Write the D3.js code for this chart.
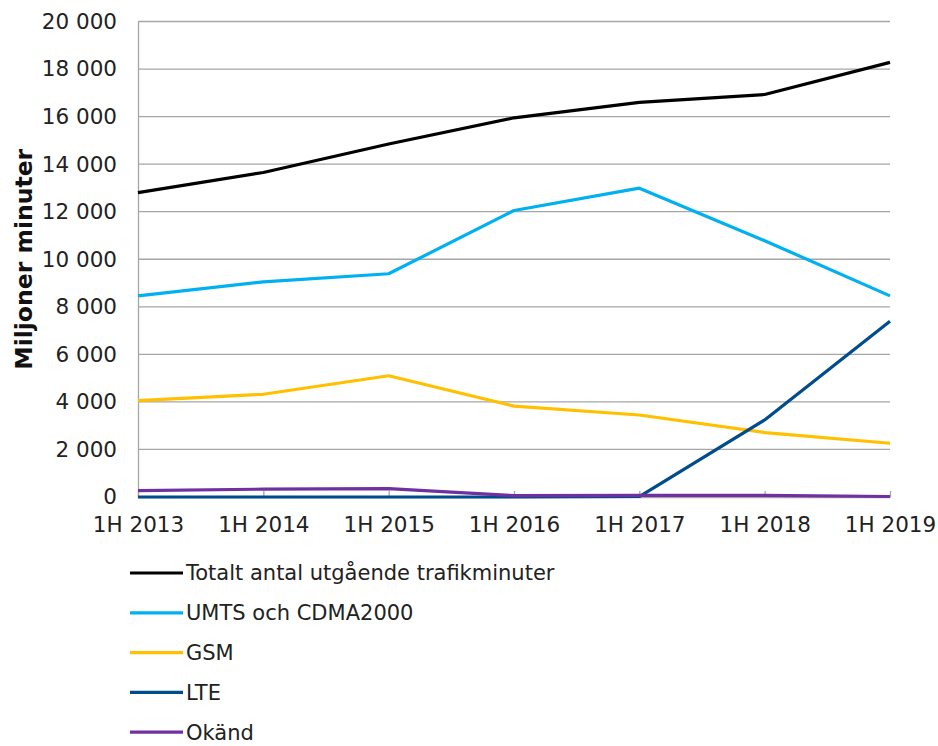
<!DOCTYPE html>
<html>
<head>
<meta charset="utf-8">
<script src="https://cdn.jsdelivr.net/npm/d3@7"></script>
<style>
  body { margin: 0; background: #fff; }
  svg { display: block; font-family: Verdana, "DejaVu Sans", sans-serif; }
</style>
</head>
<body>
<svg id="chart" width="938" height="746"></svg>
<script>
const periods = ['1H 2013', '1H 2014', '1H 2015', '1H 2016', '1H 2017', '1H 2018', '1H 2019'];
const totalt = [12800, 13650, 14850, 15950, 16600, 16930, 18280];
const umts = [8460, 9050, 9390, 12050, 12990, 10780, 8460];
const gsm = [4050, 4320, 5100, 3820, 3450, 2710, 2260];
const lte = [0, 0, 0, 0, 20, 3240, 7390];
const okand = [270, 330, 350, 60, 70, 70, 20];
const yTicks = [0, 2000, 4000, 6000, 8000, 10000, 12000, 14000, 16000, 18000, 20000];

const seriesNames = ['Totalt antal utgående trafikminuter', 'UMTS och CDMA2000', 'GSM', 'LTE', 'Okänd'];
const seriesValues = [totalt, umts, gsm, lte, okand];
const colors = ['#000000', '#00b0f0', '#ffc000', '#004c8c', '#7030a0'];

const margin = { top: 21.5, left: 138, right: 48, bottom: 249 };
const width = 938, height = 746;

const svg = d3.select('#chart');

const x = d3.scalePoint().domain(periods).range([margin.left, width - margin.right]);
const y = d3.scaleLinear().domain([0, 20000]).range([height - margin.bottom, margin.top]);

const fmt = v => d3.format(',')(v).replace(/,/g, ' ');

// gridlines
svg.append('g')
  .selectAll('line')
  .data(yTicks.filter(t => t > 0))
  .join('line')
  .attr('x1', margin.left).attr('x2', width - margin.right)
  .attr('y1', d => y(d)).attr('y2', d => y(d))
  .attr('stroke', '#a6a6a6').attr('stroke-width', 1.3);

// y axis
const yAxis = svg.append('g')
  .attr('transform', `translate(${margin.left},0)`)
  .call(d3.axisLeft(y).tickValues(yTicks).tickFormat(fmt).tickSize(0).tickPadding(21));
yAxis.select('.domain').attr('stroke', '#a6a6a6').attr('stroke-width', 1.3);
yAxis.selectAll('text').attr('font-size', 21.5).attr('fill', '#222')
  .attr('font-family', 'Verdana, "DejaVu Sans", sans-serif');

// x axis
const xAxis = svg.append('g')
  .attr('transform', `translate(0,${y(0)})`)
  .call(d3.axisBottom(x).tickSizeInner(-6).tickSizeOuter(0).tickPadding(20));
xAxis.select('.domain').attr('stroke', '#a6a6a6').attr('stroke-width', 1.3);
xAxis.selectAll('.tick line').attr('stroke', '#a6a6a6').attr('stroke-width', 1.3);
xAxis.selectAll('text').attr('font-size', 21.5).attr('fill', '#222')
  .attr('font-family', 'Verdana, "DejaVu Sans", sans-serif');

// y axis title
svg.append('text')
  .attr('transform', `translate(32,${(y(0) + y(20000)) / 2}) rotate(-90)`)
  .attr('text-anchor', 'middle')
  .attr('font-size', 23.5)
  .attr('font-weight', 'bold')
  .attr('fill', '#111')
  .text('Miljoner minuter');

// lines
const line = d3.line()
  .x((d, i) => x(periods[i]))
  .y(d => y(d));

svg.append('g')
  .selectAll('path')
  .data(seriesValues)
  .join('path')
  .attr('d', d => line(d))
  .attr('fill', 'none')
  .attr('stroke', (d, i) => colors[i])
  .attr('stroke-width', 3.2)
  .attr('stroke-linejoin', 'round');

// legend
const legend = svg.append('g')
  .selectAll('g')
  .data(seriesNames)
  .join('g')
  .attr('transform', (d, i) => `translate(130,${573 + i * 39.8})`);

legend.append('line')
  .attr('x1', 0).attr('x2', 53)
  .attr('stroke', (d, i) => colors[i])
  .attr('stroke-width', 3.2);

legend.append('text')
  .attr('x', 56)
  .attr('dy', '0.35em')
  .attr('font-size', 21)
  .attr('fill', '#222')
  .text(d => d);
</script>
</body>
</html>
